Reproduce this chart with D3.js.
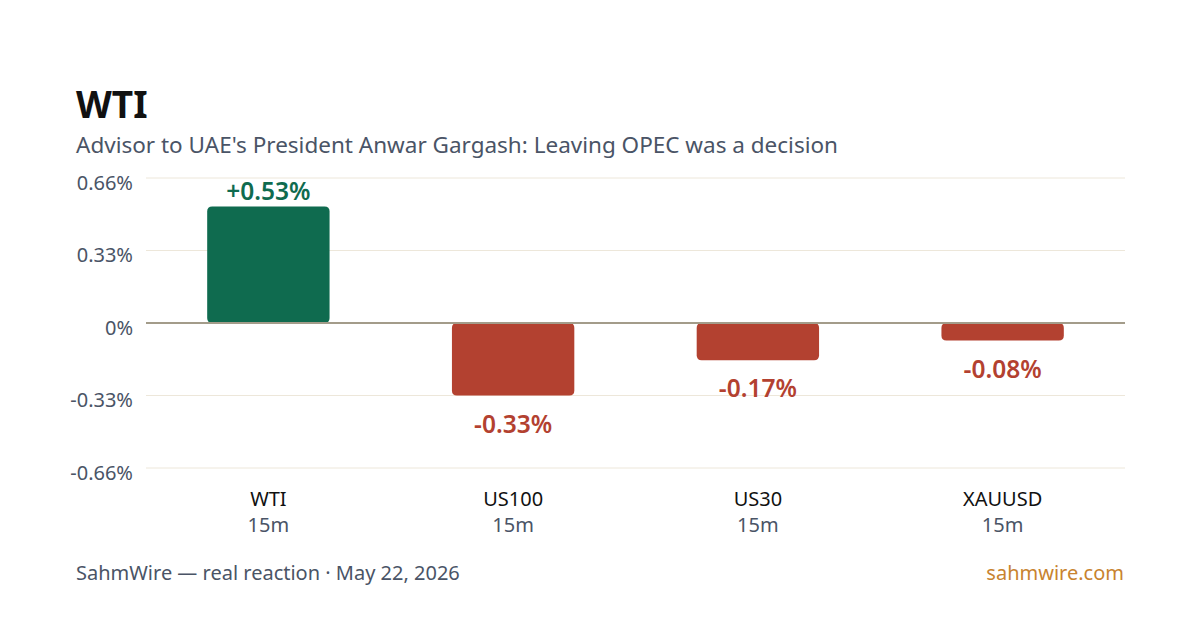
<!DOCTYPE html>
<html><head><meta charset="utf-8">
<script src="https://cdn.jsdelivr.net/npm/d3@7"></script>
<style>html,body{margin:0;padding:0;background:#fff;}svg{display:block;}</style>
</head><body>
<svg id="chart" width="1200" height="630"></svg>
<script>
const categories = ["WTI", "US100", "US30", "XAUUSD"];
const timeframes = ["15m", "15m", "15m", "15m"];
const values = [0.53, -0.33, -0.17, -0.08];
const tickValues = [0.66, 0.33, 0, -0.33, -0.66];
const tickLabels = ["0.66%", "0.33%", "0%", "-0.33%", "-0.66%"];
const titleText = "WTI";
const subtitleText = "Advisor to UAE's President Anwar Gargash: Leaving OPEC was a decision";
const footerLeft = "SahmWire — real reaction · May 22, 2026";
const footerRight = "sahmwire.com";

(function () {
const font = "'Noto Sans', 'Open Sans', sans-serif";
const svg = d3.select("#chart");
const pLeft = 146, pRight = 1125, pTop = 178, pBottom = 468;

const x = d3.scaleBand().domain(categories).range([pLeft, pRight]).paddingInner(0.5).paddingOuter(0.25);
const y = d3.scaleLinear().domain([-0.66, 0.66]).range([pBottom, pTop]);

svg.append("text").attr("x", 76).attr("y", 118).text(titleText)
  .attr("font-family", font).attr("font-size", 37).attr("font-weight", 700).attr("fill", "#111");
svg.append("text").attr("x", 76).attr("y", 153).text(subtitleText)
  .attr("font-family", font).attr("font-size", 22.5).attr("fill", "#4a5466");

// gridlines
svg.append("g").selectAll("line").data(tickValues.filter(d => d !== 0)).join("line")
  .attr("x1", pLeft).attr("x2", pRight).attr("y1", d => y(d)).attr("y2", d => y(d))
  .attr("stroke", "#ede7da").attr("stroke-width", 1);

// y axis
const yAxis = d3.axisLeft(y).tickValues(tickValues).tickSize(0).tickPadding(0)
  .tickFormat((d, i) => tickLabels[i]);
const ya = svg.append("g").attr("transform", "translate(133,0)").call(yAxis);
ya.select(".domain").remove();
ya.selectAll("text").attr("font-family", font).attr("font-size", 20).attr("fill", "#4a5466")
  .attr("dy", "0.55em");

// bars
const r = 5;
function barPath(d) {
  const x0 = x(d.c), w = x.bandwidth();
  const y0 = y(Math.max(0, d.v)), y1 = y(Math.min(0, d.v));
  const h = y1 - y0;
  const rr = Math.min(r, h / 2);
  return `M${x0 + rr},${y0} H${x0 + w - rr} Q${x0 + w},${y0} ${x0 + w},${y0 + rr} V${y1 - rr} Q${x0 + w},${y1} ${x0 + w - rr},${y1} H${x0 + rr} Q${x0},${y1} ${x0},${y1 - rr} V${y0 + rr} Q${x0},${y0} ${x0 + rr},${y0} Z`;
}
const data = categories.map((c, i) => ({c, v: values[i], tf: timeframes[i]}));
svg.append("g").selectAll("path").data(data).join("path")
  .attr("d", barPath).attr("fill", d => d.v >= 0 ? "#0f6b4f" : "#b34130");

// zero line
svg.append("line").attr("x1", pLeft).attr("x2", pRight).attr("y1", y(0)).attr("y2", y(0))
  .attr("stroke", "#a39c8a").attr("stroke-width", 2);

// value labels
svg.append("g").selectAll("text").data(data).join("text")
  .attr("x", d => x(d.c) + x.bandwidth() / 2)
  .attr("y", d => d.v >= 0 ? y(d.v) - 7 : y(d.v) + 37)
  .attr("text-anchor", "middle")
  .attr("font-family", font).attr("font-size", 24.5).attr("font-weight", 600)
  .attr("fill", d => d.v >= 0 ? "#0f6b4f" : "#b34130")
  .text(d => (d.v >= 0 ? "+" : "") + d.v.toFixed(2) + "%");

// category labels
const cat = svg.append("g").selectAll("g").data(data).join("g")
  .attr("transform", d => `translate(${x(d.c) + x.bandwidth() / 2},0)`);
cat.append("text").attr("y", 506).attr("text-anchor", "middle").text(d => d.c)
  .attr("font-family", font).attr("font-size", 20).attr("fill", "#111");
cat.append("text").attr("y", 532).attr("text-anchor", "middle").text(d => d.tf)
  .attr("font-family", font).attr("font-size", 20).attr("fill", "#4a5466");

// footer
svg.append("text").attr("x", 76).attr("y", 580).text(footerLeft)
  .attr("font-family", font).attr("font-size", 20).attr("fill", "#4a5466");
svg.append("text").attr("x", 1124).attr("y", 580).attr("text-anchor", "end").text(footerRight)
  .attr("font-family", font).attr("font-size", 20).attr("fill", "#c8832f");
})();
</script>
</body></html>
